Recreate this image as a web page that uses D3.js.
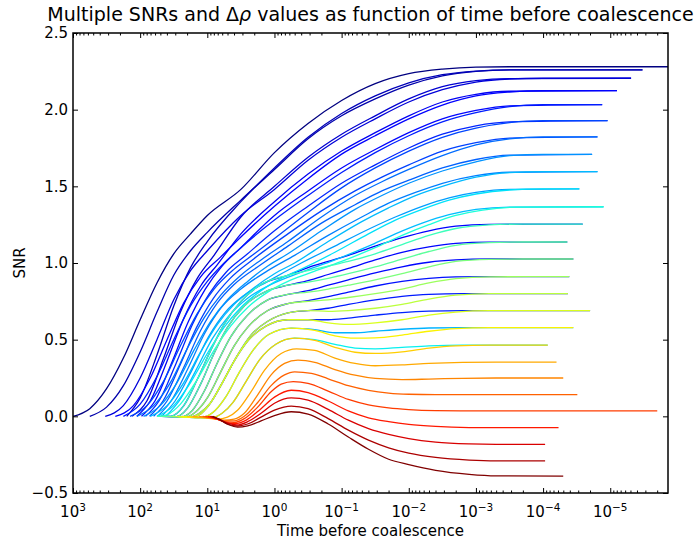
<!DOCTYPE html>
<html>
<head>
<meta charset="utf-8">
<script src="https://cdn.jsdelivr.net/npm/d3@7"></script>
<style>
  body { margin: 0; background: #fff; }
  text { font-family: "DejaVu Sans", sans-serif; fill: #000; }
</style>
</head>
<body>
<svg id="chart" width="698" height="540"></svg>
<script>
// points are [log10(time before coalescence), SNR]
var mainCurves = [
  [[3,0],[2.75,0.05],[2.5,0.18],[2.25,0.38],[2,0.63],[1.75,0.87],[1.5,1.06],[1.25,1.19],[1,1.31],[0.5,1.48],[0,1.72],[-0.5,1.91],[-1,2.06],[-1.5,2.17],[-2,2.235],[-2.5,2.265],[-3,2.278],[-3.5,2.28],[-5.86,2.28]],
  [[2.75,0],[2.5,0.06],[2.25,0.2],[2,0.42],[1.75,0.68],[1.5,0.92],[1.25,1.08],[1,1.2],[0.5,1.41],[0,1.61],[-0.5,1.81],[-1,1.96],[-1.5,2.07],[-2,2.16],[-2.5,2.22],[-3,2.25],[-3.5,2.26],[-5.48,2.26]],
  [[2.52,0],[2.25,0.07],[2,0.25],[1.75,0.5],[1.5,0.76],[1.25,0.95],[1,1.08],[0.5,1.31],[0,1.48],[-0.5,1.67],[-1,1.82],[-1.5,1.94],[-2,2.05],[-2.5,2.13],[-3,2.18],[-3.5,2.2],[-4,2.205],[-5.31,2.205]],
  [[2.37,0],[2.1,0.07],[1.85,0.25],[1.6,0.5],[1.35,0.74],[1.1,0.91],[0.8,1.04],[0.5,1.17],[0,1.37],[-0.5,1.55],[-1,1.71],[-1.5,1.83],[-2,1.94],[-2.5,2.03],[-3,2.09],[-3.5,2.115],[-4,2.124],[-5.1,2.124]],
  [[2.25,0],[2,0.08],[1.75,0.26],[1.5,0.5],[1.25,0.72],[1,0.88],[0.75,1.0],[0.5,1.1],[0,1.28],[-0.5,1.44],[-1,1.59],[-1.5,1.72],[-2,1.83],[-2.5,1.92],[-3,1.98],[-3.5,2.02],[-4,2.033],[-4.88,2.033]],
  [[2.15,0],[1.9,0.07],[1.65,0.23],[1.4,0.46],[1.15,0.67],[0.9,0.83],[0.6,0.96],[0.3,1.06],[0,1.16],[-0.5,1.33],[-1,1.49],[-1.5,1.62],[-2,1.73],[-2.5,1.82],[-3,1.88],[-3.5,1.915],[-4,1.928],[-4.96,1.928]],
  [[2.05,0],[1.8,0.07],[1.55,0.22],[1.3,0.44],[1.05,0.64],[0.8,0.79],[0.5,0.92],[0.2,1.02],[-0.2,1.14],[-0.7,1.3],[-1.2,1.44],[-1.6,1.53],[-2,1.61],[-2.5,1.7],[-3,1.77],[-3.5,1.81],[-4,1.822],[-4.81,1.822]],
  [[1.95,0],[1.7,0.07],[1.45,0.22],[1.2,0.43],[0.95,0.62],[0.7,0.76],[0.4,0.88],[0.1,0.98],[-0.2,1.06],[-0.7,1.21],[-1.2,1.35],[-1.6,1.44],[-2,1.52],[-2.5,1.6],[-3,1.66],[-3.5,1.7],[-4,1.709],[-4.73,1.709]],
  [[1.85,0],[1.6,0.07],[1.35,0.22],[1.1,0.42],[0.85,0.6],[0.6,0.73],[0.3,0.84],[0,0.93],[-0.3,1.0],[-0.8,1.14],[-1.3,1.27],[-1.7,1.36],[-2.1,1.44],[-2.5,1.5],[-3,1.56],[-3.5,1.59],[-4,1.596],[-4.81,1.596]],
  [[1.75,0],[1.5,0.07],[1.25,0.22],[1,0.41],[0.75,0.58],[0.5,0.71],[0.2,0.82],[-0.1,0.9],[-0.4,0.96],[-0.9,1.07],[-1.4,1.19],[-1.8,1.28],[-2.2,1.35],[-2.6,1.41],[-3,1.45],[-3.5,1.476],[-4,1.483],[-4.54,1.483]],
  [[1.7,0],[1.6,0.01],[1.4,0.08],[1.15,0.24],[0.9,0.43],[0.65,0.59],[0.4,0.71],[0.1,0.81],[-0.2,0.88],[-0.5,0.93],[-1,1.01],[-1.5,1.1],[-1.9,1.18],[-2.3,1.25],[-2.7,1.31],[-3.1,1.345],[-3.6,1.364],[-4.9,1.367]],
  [[1.75,0],[1.55,0.0],[1.35,0.07],[1.15,0.24],[0.95,0.43],[0.75,0.6],[0.5,0.75],[0.2,0.86],[-0.2,0.92],[-0.5,0.95],[-0.8,0.98],[-1.1,1.01],[-1.5,1.06],[-1.9,1.12],[-2.3,1.18],[-2.7,1.225],[-3.2,1.248],[-3.7,1.254],[-4.59,1.254]],
  [[1.68,0],[1.47,-0.003],[1.3,0.05],[1.1,0.21],[0.9,0.41],[0.7,0.58],[0.45,0.72],[0.1,0.82],[-0.2,0.855],[-0.5,0.875],[-0.8,0.9],[-1.1,0.93],[-1.5,0.975],[-1.9,1.025],[-2.3,1.075],[-2.7,1.115],[-3.2,1.133],[-3.7,1.137],[-4.36,1.137]],
  [[1.6,0],[1.4,-0.004],[1.22,0.04],[1.05,0.16],[0.85,0.35],[0.65,0.52],[0.4,0.66],[0.1,0.76],[-0.2,0.795],[-0.5,0.81],[-0.8,0.83],[-1.1,0.855],[-1.5,0.89],[-1.9,0.93],[-2.3,0.975],[-2.7,1.01],[-3.2,1.024],[-3.7,1.026],[-4.45,1.026]],
  [[1.52,0],[1.33,-0.005],[1.17,0.03],[1.0,0.12],[0.8,0.29],[0.6,0.46],[0.4,0.58],[0.1,0.69],[-0.2,0.735],[-0.5,0.75],[-0.8,0.76],[-1.1,0.775],[-1.5,0.8],[-1.9,0.83],[-2.3,0.87],[-2.7,0.898],[-3.2,0.91],[-4.39,0.911]],
  [[1.45,0],[1.27,-0.006],[1.12,0.02],[0.95,0.09],[0.75,0.24],[0.55,0.4],[0.35,0.53],[0.1,0.62],[-0.2,0.675],[-0.5,0.69],[-0.8,0.685],[-1.1,0.69],[-1.5,0.705],[-1.9,0.73],[-2.3,0.765],[-2.7,0.79],[-3.2,0.8],[-4.37,0.8]],
  [[1.45,0],[1.28,-0.007],[1.12,0.01],[0.98,0.07],[0.8,0.2],[0.6,0.36],[0.38,0.5],[0.12,0.59],[-0.2,0.63],[-0.5,0.63],[-0.8,0.61],[-1.1,0.6],[-1.5,0.61],[-1.9,0.63],[-2.3,0.66],[-2.7,0.68],[-3.2,0.689],[-4.7,0.689]],
  [[1.38,0],[1.18,-0.008],[1.03,-0.002],[0.88,0.04],[0.72,0.13],[0.52,0.29],[0.32,0.43],[0.08,0.535],[-0.25,0.575],[-0.6,0.56],[-0.9,0.525],[-1.2,0.51],[-1.5,0.512],[-1.9,0.53],[-2.3,0.555],[-2.7,0.572],[-3.2,0.578],[-4.45,0.578]],
  [[1.3,0],[1.1,-0.01],[0.92,-0.008],[0.78,0.02],[0.62,0.09],[0.42,0.23],[0.22,0.37],[-0.02,0.47],[-0.3,0.51],[-0.6,0.495],[-0.9,0.45],[-1.2,0.418],[-1.5,0.41],[-1.9,0.42],[-2.3,0.445],[-2.7,0.46],[-3.2,0.465],[-4.07,0.465]],
  [[1.22,0],[1.03,-0.01],[0.85,-0.018],[0.7,-0.005],[0.55,0.04],[0.35,0.16],[0.15,0.3],[-0.1,0.41],[-0.33,0.44],[-0.6,0.43],[-0.9,0.38],[-1.2,0.345],[-1.5,0.33],[-1.9,0.335],[-2.3,0.345],[-2.8,0.352],[-3.3,0.354],[-4.2,0.354]],
  [[1.12,0],[0.95,-0.012],[0.75,-0.025],[0.6,-0.018],[0.45,0.02],[0.25,0.14],[0.05,0.27],[-0.15,0.345],[-0.35,0.367],[-0.6,0.352],[-0.9,0.305],[-1.2,0.268],[-1.5,0.247],[-1.9,0.24],[-2.3,0.243],[-2.8,0.248],[-3.3,0.25],[-4.3,0.25]],
  [[1.07,0],[0.9,-0.013],[0.75,-0.03],[0.6,-0.03],[0.45,0.0],[0.25,0.09],[0.05,0.2],[-0.15,0.27],[-0.3,0.29],[-0.55,0.28],[-0.8,0.245],[-1.1,0.2],[-1.4,0.17],[-1.7,0.152],[-2,0.144],[-2.4,0.141],[-4.51,0.141]],
  [[1.03,0],[0.88,-0.015],[0.75,-0.035],[0.6,-0.04],[0.45,-0.015],[0.25,0.06],[0.05,0.16],[-0.1,0.21],[-0.28,0.226],[-0.5,0.215],[-0.8,0.165],[-1.1,0.11],[-1.4,0.075],[-1.7,0.055],[-2,0.044],[-2.4,0.037],[-2.9,0.035],[-5.7,0.035]],
  [[0.99,0],[0.86,-0.016],[0.72,-0.04],[0.58,-0.048],[0.42,-0.025],[0.2,0.05],[0,0.125],[-0.25,0.17],[-0.5,0.155],[-0.8,0.1],[-1.1,0.035],[-1.4,-0.01],[-1.7,-0.035],[-2,-0.053],[-2.4,-0.066],[-2.9,-0.073],[-3.3,-0.074],[-4.23,-0.074]],
  [[0.96,0],[0.84,-0.017],[0.7,-0.045],[0.56,-0.056],[0.4,-0.035],[0.2,0.02],[0,0.085],[-0.25,0.12],[-0.5,0.105],[-0.8,0.045],[-1.1,-0.025],[-1.4,-0.08],[-1.7,-0.118],[-2,-0.145],[-2.4,-0.168],[-2.9,-0.18],[-3.3,-0.183],[-4.03,-0.183]],
  [[0.94,0],[0.83,-0.018],[0.7,-0.05],[0.55,-0.063],[0.4,-0.05],[0.2,-0.005],[0,0.04],[-0.25,0.067],[-0.5,0.05],[-0.8,-0.015],[-1.1,-0.09],[-1.4,-0.155],[-1.7,-0.205],[-2,-0.24],[-2.4,-0.268],[-2.9,-0.285],[-3.3,-0.29],[-4.03,-0.29]],
  [[0.92,0],[0.82,-0.02],[0.68,-0.055],[0.55,-0.07],[0.4,-0.062],[0.2,-0.03],[0,0.005],[-0.25,0.03],[-0.5,0.015],[-0.8,-0.05],[-1.1,-0.135],[-1.4,-0.215],[-1.7,-0.28],[-2,-0.315],[-2.4,-0.352],[-2.9,-0.378],[-3.3,-0.388],[-4.3,-0.39]]
];
// colour of each main curve on the jet map (0 = dark blue, 1 = dark red)
var mainColors = mainCurves.map(function(d, i) { return i / (mainCurves.length - 1); });

// bluer curves that join the bundles (drawn underneath)
var compCurves = [
  [[2.2,0],[2,0.12],[1.75,0.4],[1.5,0.72],[1.25,0.97],[1,1.14],[0.5,1.4],[0,1.62],[-0.5,1.82],[-1,1.975],[-1.5,2.09],[-2,2.175],[-2.5,2.228],[-3,2.252],[-3.5,2.26],[-5.48,2.26]],
  [[2.12,0],[1.9,0.1],[1.65,0.38],[1.4,0.68],[1.15,0.9],[0.9,1.05],[0.5,1.3],[0,1.5],[-0.5,1.69],[-1,1.84],[-1.5,1.96],[-2,2.07],[-2.5,2.15],[-3,2.19],[-3.5,2.203],[-5.31,2.205]],
  [[2.05,0],[1.85,0.1],[1.6,0.36],[1.35,0.64],[1.1,0.85],[0.85,0.99],[0.5,1.19],[0,1.4],[-0.5,1.58],[-1,1.73],[-1.5,1.85],[-2,1.96],[-2.5,2.05],[-3,2.1],[-3.5,2.12],[-5.1,2.124]],
  [[1.98,0],[1.78,0.1],[1.53,0.35],[1.28,0.62],[1.03,0.83],[0.78,0.98],[0.5,1.1],[0,1.31],[-0.5,1.47],[-1,1.62],[-1.5,1.74],[-2,1.85],[-2.5,1.94],[-3,1.995],[-3.5,2.025],[-4.88,2.033]],
  [[1.92,0],[1.72,0.1],[1.47,0.34],[1.22,0.6],[0.97,0.8],[0.72,0.94],[0.4,1.06],[0,1.21],[-0.5,1.37],[-1,1.52],[-1.5,1.64],[-2,1.75],[-2.5,1.84],[-3,1.895],[-3.5,1.92],[-4.96,1.928]],
  [[1.86,0],[1.66,0.1],[1.41,0.33],[1.16,0.58],[0.91,0.77],[0.66,0.9],[0.3,1.03],[-0.2,1.19],[-0.7,1.34],[-1.2,1.47],[-1.6,1.56],[-2,1.64],[-2.5,1.73],[-3,1.785],[-3.5,1.815],[-4.81,1.822]],
  [[1.8,0],[1.6,0.1],[1.35,0.32],[1.1,0.56],[0.85,0.74],[0.6,0.86],[0.2,0.99],[-0.2,1.11],[-0.7,1.26],[-1.2,1.38],[-1.6,1.47],[-2,1.54],[-2.5,1.62],[-3,1.675],[-3.5,1.703],[-4.73,1.709]],
  [[1.74,0],[1.54,0.1],[1.29,0.31],[1.04,0.54],[0.79,0.71],[0.5,0.83],[0.1,0.95],[-0.3,1.05],[-0.8,1.18],[-1.3,1.3],[-1.7,1.39],[-2.1,1.46],[-2.5,1.52],[-3,1.57],[-3.5,1.592],[-4.81,1.596]],
  [[1.68,0],[1.48,0.1],[1.23,0.3],[0.98,0.52],[0.73,0.68],[0.45,0.79],[0.1,0.88],[-0.4,1.0],[-0.9,1.11],[-1.4,1.22],[-1.8,1.3],[-2.2,1.37],[-2.6,1.425],[-3,1.46],[-3.5,1.48],[-4.54,1.483]],
  [[1.62,0],[1.42,0.1],[1.17,0.3],[0.92,0.51],[0.67,0.66],[0.4,0.77],[0.05,0.86],[-0.4,0.94],[-0.9,1.02],[-1.4,1.11],[-1.8,1.19],[-2.2,1.26],[-2.6,1.315],[-3,1.35],[-3.5,1.365],[-4.9,1.367]],
  [[1.75,0],[1.55,0.0],[1.35,0.07],[1.15,0.24],[0.95,0.43],[0.75,0.6],[0.5,0.75],[0.2,0.86],[-0.2,0.92],[-0.5,0.97],[-0.8,1.01],[-1.1,1.05],[-1.5,1.11],[-1.9,1.165],[-2.3,1.21],[-2.7,1.24],[-3.2,1.252],[-4.59,1.254]],
  [[1.68,0],[1.47,-0.003],[1.3,0.05],[1.1,0.21],[0.9,0.41],[0.7,0.58],[0.45,0.72],[0.1,0.82],[-0.2,0.855],[-0.5,0.885],[-0.8,0.925],[-1.1,0.965],[-1.5,1.02],[-1.9,1.07],[-2.3,1.105],[-2.7,1.128],[-3.2,1.136],[-4.36,1.137]],
  [[1.6,0],[1.4,-0.004],[1.22,0.04],[1.05,0.16],[0.85,0.35],[0.65,0.52],[0.4,0.66],[0.1,0.76],[-0.2,0.795],[-0.5,0.82],[-0.8,0.855],[-1.1,0.89],[-1.5,0.935],[-1.9,0.975],[-2.3,1.005],[-2.7,1.02],[-3.2,1.026],[-4.45,1.026]],
  [[1.52,0],[1.33,-0.005],[1.17,0.03],[1.0,0.12],[0.8,0.29],[0.6,0.46],[0.4,0.58],[0.1,0.69],[-0.2,0.735],[-0.5,0.755],[-0.8,0.78],[-1.1,0.81],[-1.5,0.85],[-1.9,0.88],[-2.3,0.9],[-2.7,0.909],[-3.2,0.911],[-4.39,0.911]],
  [[1.45,0],[1.27,-0.006],[1.12,0.02],[0.95,0.09],[0.75,0.24],[0.55,0.4],[0.35,0.53],[0.1,0.62],[-0.2,0.675],[-0.5,0.69],[-0.8,0.705],[-1.1,0.73],[-1.5,0.76],[-1.9,0.783],[-2.3,0.796],[-2.8,0.8],[-4.37,0.8]],
  [[1.45,0],[1.28,-0.007],[1.12,0.01],[0.98,0.07],[0.8,0.2],[0.6,0.36],[0.38,0.5],[0.12,0.59],[-0.2,0.63],[-0.5,0.63],[-0.8,0.63],[-1.1,0.64],[-1.5,0.66],[-1.9,0.677],[-2.3,0.686],[-2.8,0.689],[-4.7,0.689]],
  [[1.38,0],[1.18,-0.008],[1.03,-0.002],[0.88,0.04],[0.72,0.13],[0.52,0.29],[0.32,0.43],[0.08,0.535],[-0.25,0.575],[-0.6,0.565],[-0.9,0.545],[-1.2,0.545],[-1.5,0.555],[-1.9,0.568],[-2.3,0.576],[-2.8,0.578],[-4.45,0.578]],
  [[1.3,0],[1.1,-0.01],[0.92,-0.008],[0.78,0.02],[0.62,0.09],[0.42,0.23],[0.22,0.37],[-0.02,0.47],[-0.3,0.51],[-0.6,0.5],[-0.9,0.47],[-1.2,0.445],[-1.5,0.44],[-1.9,0.45],[-2.3,0.46],[-2.8,0.465],[-4.07,0.465]]
];
var compColors = [0.05, 0.07, 0.1, 0.13, 0.16, 0.19, 0.22, 0.25, 0.28, 0.31, 0.12, 0.13, 0.13, 0.14, 0.15, 0.16, 0.3, 0.36];

var xMajorExps = [3, 2, 1, 0, -1, -2, -3, -4, -5];
var yTicks = [-0.5, 0, 0.5, 1, 1.5, 2, 2.5];
var titleText = ["Multiple SNRs and \u0394", "\u03c1", " values as function of time before coalescence"];
var xLabel = "Time before coalescence";
var yLabel = "SNR";

var width = 698, height = 540;
var margin = {top: 33, right: 30, bottom: 47, left: 73};
var plotW = width - margin.left - margin.right;
var plotH = height - margin.top - margin.bottom;

var jetR = d3.scaleLinear().domain([0, 0.35, 0.66, 0.89, 1]).range([0, 0, 1, 1, 0.5]).clamp(true);
var jetG = d3.scaleLinear().domain([0, 0.125, 0.375, 0.64, 0.91, 1]).range([0, 0, 1, 1, 0, 0]).clamp(true);
var jetB = d3.scaleLinear().domain([0, 0.11, 0.34, 0.65, 1]).range([0.5, 1, 1, 0, 0]).clamp(true);
var jet = function(t) {
    return d3.rgb(jetR(t) * 255, jetG(t) * 255, jetB(t) * 255).toString();
};

var x = d3.scaleLog().domain([1e3, Math.pow(10, -5.86)]).range([0, plotW]);
var y = d3.scaleLinear().domain([-0.5, 2.5]).range([plotH, 0]);

var svg = d3.select("#chart");
var g = svg.append("g").attr("transform", "translate(" + margin.left + "," + margin.top + ")");

g.append("clipPath").attr("id", "clip")
    .append("rect").attr("width", plotW).attr("height", plotH);

var curves = [];
mainCurves.forEach(function(pts, i) { curves.push({pts: pts, c: mainColors[i]}); });
compCurves.forEach(function(pts, i) { curves.push({pts: pts, c: compColors[i]}); });
curves.sort(function(a, b) { return a.c - b.c; });

var line = d3.line()
    .x(function(d) { return x(Math.pow(10, d[0])); })
    .y(function(d) { return y(d[1]); })
    .curve(d3.curveMonotoneX);

g.append("g").attr("clip-path", "url(#clip)")
    .selectAll("path")
    .data(curves)
    .enter().append("path")
    .attr("d", function(d) { return line(d.pts); })
    .attr("fill", "none")
    .attr("stroke", function(d) { return jet(d.c); })
    .attr("stroke-width", 1.3);

// ticks (inward, on all four sides)
var xMajors = xMajorExps.map(function(e) { return Math.pow(10, e); });
var xMinors = [];
for (var e = -6; e <= 2; e++) {
    for (var m = 2; m <= 9; m++) {
        var v = m * Math.pow(10, e);
        if (v <= 1e3 && v >= Math.pow(10, -5.86)) xMinors.push(v);
    }
}

var addAxis = function(axis, transform) {
    var a = g.append("g").attr("transform", transform).call(axis);
    a.select(".domain").remove();
    a.selectAll("line").attr("stroke", "#000").attr("stroke-width", 1);
    return a;
};

addAxis(d3.axisBottom(x).tickValues(xMajors).tickSizeInner(-5).tickSizeOuter(0).tickFormat(""), "translate(0," + plotH + ")");
addAxis(d3.axisBottom(x).tickValues(xMinors).tickSizeInner(-2.5).tickSizeOuter(0).tickFormat(""), "translate(0," + plotH + ")");
addAxis(d3.axisTop(x).tickValues(xMajors).tickSizeInner(-5).tickSizeOuter(0).tickFormat(""), "translate(0,0)");
addAxis(d3.axisTop(x).tickValues(xMinors).tickSizeInner(-2.5).tickSizeOuter(0).tickFormat(""), "translate(0,0)");
addAxis(d3.axisRight(y).tickValues(yTicks).tickSizeInner(-5).tickSizeOuter(0).tickFormat(""), "translate(" + plotW + ",0)");

var yAx = addAxis(d3.axisLeft(y).tickValues(yTicks).tickSizeInner(-5).tickSizeOuter(0)
    .tickPadding(5).tickFormat(d3.format(".1f")), "translate(0,0)");
yAx.selectAll("text").attr("font-size", 15).attr("font-family", "DejaVu Sans");

// x tick labels as powers of ten
var xl = g.append("g").selectAll("text")
    .data(xMajorExps)
    .enter().append("text")
    .attr("x", function(d) { return x(Math.pow(10, d)); })
    .attr("y", plotH + 24)
    .attr("text-anchor", "middle")
    .attr("font-size", 15);
xl.append("tspan").text("10");
xl.append("tspan").attr("dy", -6.5).attr("font-size", 10.5)
    .text(function(d) { return d < 0 ? "\u2212" + (-d) : d; });

// frame
g.append("rect")
    .attr("width", plotW).attr("height", plotH)
    .attr("fill", "none").attr("stroke", "#000").attr("stroke-width", 1.5);

// title and axis labels
var title = svg.append("text")
    .attr("x", margin.left + plotW / 2).attr("y", 21)
    .attr("text-anchor", "middle").attr("font-size", 19);
title.append("tspan").text(titleText[0]);
title.append("tspan").attr("font-style", "italic").text(titleText[1]);
title.append("tspan").text(titleText[2]);

svg.append("text")
    .attr("x", margin.left + plotW / 2).attr("y", 536)
    .attr("text-anchor", "middle").attr("font-size", 15)
    .text(xLabel);

svg.append("text")
    .attr("transform", "translate(25," + (margin.top + plotH / 2) + ") rotate(-90)")
    .attr("text-anchor", "middle").attr("font-size", 15)
    .text(yLabel);
</script>
</body>
</html>
